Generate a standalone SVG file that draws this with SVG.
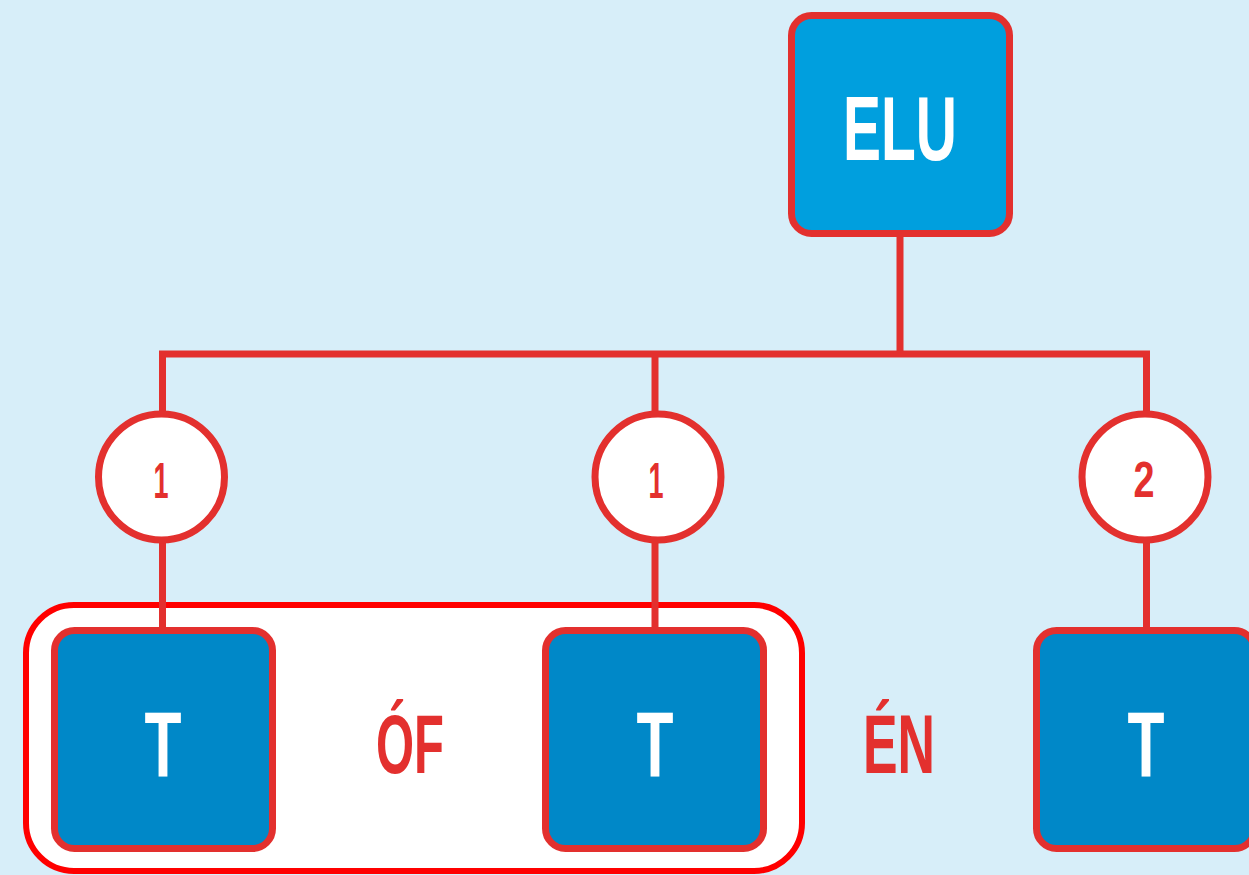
<svg xmlns="http://www.w3.org/2000/svg" width="1249" height="875" viewBox="0 0 1249 875">
<style>
.bg{fill:#d7eef9}
.node{stroke:#e3302e;stroke-width:7}
.top{fill:#009fde}
.t{fill:#0088c8}
.circ{fill:#ffffff;stroke:#e3302e;stroke-width:7}
.grp{fill:#ffffff;stroke:#ff0000;stroke-width:6}
.conn{fill:none;stroke:#e3302e;stroke-width:7;stroke-linejoin:miter}
.lbl{font-family:"Liberation Sans",Arial,sans-serif;font-weight:bold;text-anchor:middle}
.w{fill:#ffffff}
.r{fill:#e3302e}
</style>
<rect class="bg" x="0" y="0" width="1249" height="875"/>
<g id="group-of">
<rect class="grp" x="26" y="605" width="776" height="266" rx="48"/>
<text class="lbl r" x="410" y="773" font-size="84" textLength="68" lengthAdjust="spacingAndGlyphs">ÓF</text>
</g>
<g id="label-en">
<text class="lbl r" x="899" y="773" font-size="84" textLength="72" lengthAdjust="spacingAndGlyphs">ÉN</text>
</g>
<g id="connectors">
<path class="conn" d="M900,237 V354 M162.5,630 V354 H1146.5 V630 M655,354 V630"/>
</g>
<g id="c1">
<circle class="circ" cx="161.5" cy="477" r="63"/>
<text class="lbl r" x="161" y="498" font-size="50" textLength="15" lengthAdjust="spacingAndGlyphs">1</text>
</g>
<g id="c2">
<circle class="circ" cx="658" cy="477" r="63"/>
<text class="lbl r" x="656" y="498" font-size="50" textLength="15" lengthAdjust="spacingAndGlyphs">1</text>
</g>
<g id="c3">
<circle class="circ" cx="1145" cy="477" r="63"/>
<text class="lbl r" x="1144" y="497" font-size="50" textLength="21" lengthAdjust="spacingAndGlyphs">2</text>
</g>
<g id="elu">
<rect class="node top" x="791.5" y="15.5" width="218" height="218" rx="20"/>
<text class="lbl w" x="900" y="160" font-size="91" textLength="114" lengthAdjust="spacingAndGlyphs">ELU</text>
</g>
<g id="t1">
<rect class="node t" x="54.5" y="630.5" width="218" height="218" rx="20"/>
<text class="lbl w" x="163" y="777" font-size="92" textLength="37" lengthAdjust="spacingAndGlyphs">T</text>
</g>
<g id="t2">
<rect class="node t" x="545.5" y="630.5" width="218" height="218" rx="20"/>
<text class="lbl w" x="655" y="777" font-size="92" textLength="37" lengthAdjust="spacingAndGlyphs">T</text>
</g>
<g id="t3">
<rect class="node t" x="1036.5" y="630.5" width="218" height="218" rx="20"/>
<text class="lbl w" x="1146" y="777" font-size="92" textLength="37" lengthAdjust="spacingAndGlyphs">T</text>
</g>
</svg>
